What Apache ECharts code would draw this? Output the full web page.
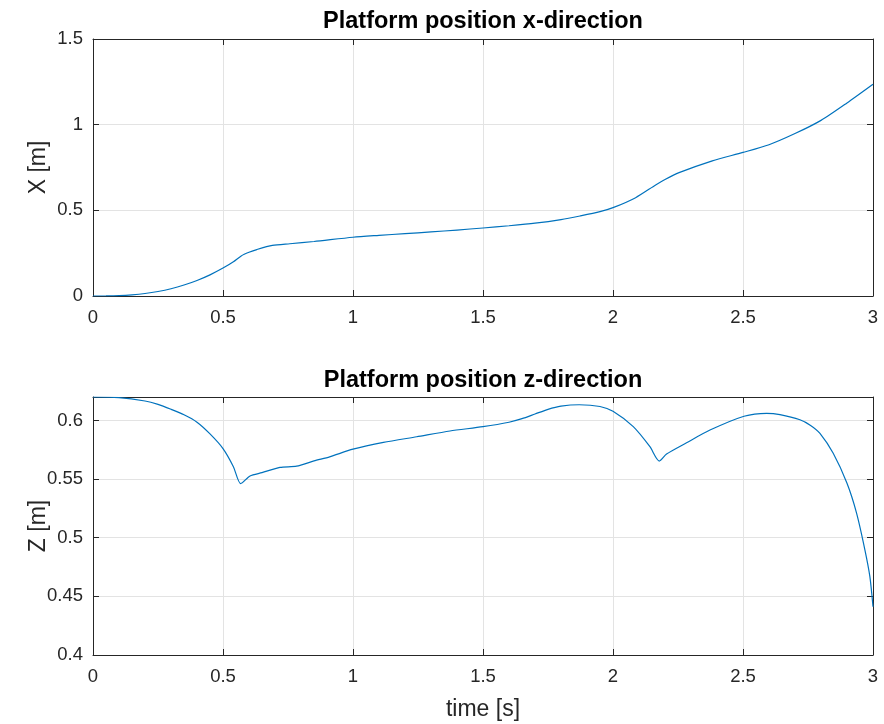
<!DOCTYPE html>
<html>
<head>
<meta charset="utf-8">
<title>Platform position</title>
<script src="https://cdn.jsdelivr.net/npm/echarts@6/dist/echarts.min.js"></script>
<style>
  html, body { margin: 0; padding: 0; background: #ffffff; }
  #chart { width: 884px; height: 724px; }
</style>
</head>
<body>
<div id="chart"></div>
<script>
// Platform position in x-direction over time
var timeX = [0, 0.05, 0.1, 0.15, 0.2, 0.25, 0.3, 0.35, 0.4, 0.45, 0.5, 0.54, 0.57, 0.6, 0.63, 0.69, 0.757, 0.85,
             1.0, 1.1, 1.2, 1.3, 1.4, 1.5, 1.6, 1.7, 1.8, 1.873, 1.95, 2.0, 2.087, 2.164, 2.2, 2.254, 2.382,
             2.5, 2.6, 2.7, 2.8, 2.9, 3.0];
var posX = [0, 0.0004, 0.0024, 0.007, 0.0146, 0.0263, 0.0425, 0.064, 0.0906, 0.1235, 0.163, 0.2, 0.234, 0.255, 0.271, 0.295, 0.305, 0.318,
            0.343, 0.354, 0.364, 0.374, 0.385, 0.397, 0.41, 0.425, 0.446, 0.467, 0.492, 0.5155, 0.574, 0.648, 0.68, 0.72, 0.789,
            0.838, 0.883, 0.948, 1.025, 1.127, 1.236];

// Platform position in z-direction over time
var timeZ = [0, 0.1, 0.2, 0.25, 0.3, 0.35, 0.4, 0.45, 0.5, 0.54, 0.568, 0.604, 0.65, 0.719, 0.783, 0.85, 0.91, 1.0,
             1.117, 1.245, 1.373, 1.5, 1.6, 1.65, 1.7, 1.75, 1.8, 1.87, 1.95, 2.0, 2.078, 2.142, 2.178, 2.206, 2.283,
             2.373, 2.504, 2.591, 2.642, 2.719, 2.76, 2.796, 2.847, 2.9, 2.937, 2.969, 2.988, 3.0];
var posZ = [0.62, 0.6195, 0.6166, 0.6137, 0.6095, 0.6048, 0.5985, 0.5885, 0.576, 0.5606, 0.5462, 0.5527, 0.5555, 0.560, 0.561, 0.5655, 0.569, 0.5755,
            0.5813, 0.5861, 0.591, 0.5947, 0.5985, 0.6015, 0.6055, 0.6095, 0.6122, 0.6134, 0.6119, 0.6078, 0.5947, 0.5776, 0.5654, 0.5714, 0.581,
            0.5918, 0.6036, 0.6061, 0.605, 0.6006, 0.5958, 0.589, 0.572, 0.5464, 0.5208, 0.4895, 0.4668, 0.4412];

var titles = ['Platform position x-direction', 'Platform position z-direction'];
var yNames = ['X [m]', 'Z [m]'];
var xName = 'time [s]';

function pairs(ts, vs) {
  return ts.map(function (t, i) { return [t, vs[i]]; });
}

var FONT = '"Liberation Sans", Arial, Helvetica, sans-serif';
var INK = '#262626';
var GRID = '#e3e3e3';
var LINE = '#0072BD';
var TICK_SIZE = 18.5;
var NAME_SIZE = 23;
var TITLE_SIZE = 23.5;

function frameX(gridIndex, position, showLabels, name) {
  return {
    type: 'value', gridIndex: gridIndex, position: position,
    min: 0, max: 3, interval: 0.5,
    name: name || '', nameLocation: 'middle', nameGap: 43, nameMoveOverlap: false,
    nameTextStyle: { fontFamily: FONT, fontSize: NAME_SIZE, color: INK },
    axisLine: { show: true, onZero: false, lineStyle: { color: INK, width: 1 } },
    axisTick: { show: true, inside: true, length: 6, lineStyle: { color: INK } },
    axisLabel: { show: showLabels, margin: 12, fontFamily: FONT, fontSize: TICK_SIZE, color: INK },
    splitLine: { show: showLabels, lineStyle: { color: GRID, width: 1 } }
  };
}

function frameY(gridIndex, position, showLabels, min, max, interval, name, hideMax) {
  return {
    type: 'value', gridIndex: gridIndex, position: position,
    min: min, max: max, interval: interval,
    name: name || '', nameLocation: 'middle', nameGap: 43, nameMoveOverlap: false,
    nameTextStyle: { fontFamily: FONT, fontSize: NAME_SIZE, color: INK },
    axisLine: { show: true, onZero: false, lineStyle: { color: INK, width: 1 } },
    axisTick: { show: true, inside: true, length: 6, lineStyle: { color: INK } },
    axisLabel: { show: showLabels, margin: 10, fontFamily: FONT, fontSize: TICK_SIZE, color: INK, showMaxLabel: !hideMax },
    splitLine: { show: showLabels, lineStyle: { color: GRID, width: 1 } }
  };
}

var chart = echarts.init(document.getElementById('chart'), null, { renderer: 'canvas' });

chart.setOption({
  backgroundColor: '#ffffff',
  animation: false,
  title: [
    { text: titles[0], left: 478, top: 5, textAlign: 'center',
      textStyle: { fontFamily: FONT, fontSize: TITLE_SIZE, fontWeight: 'bold', color: '#000000' } },
    { text: titles[1], left: 478, top: 364, textAlign: 'center',
      textStyle: { fontFamily: FONT, fontSize: TITLE_SIZE, fontWeight: 'bold', color: '#000000' } }
  ],
  grid: [
    { left: 93, top: 39, width: 780, height: 257, containLabel: false },
    { left: 93, top: 397, width: 780, height: 258, containLabel: false }
  ],
  xAxis: [
    frameX(0, 'bottom', true),
    frameX(0, 'top', false),
    frameX(1, 'bottom', true, xName),
    frameX(1, 'top', false)
  ],
  yAxis: [
    frameY(0, 'left', true, 0, 1.5, 0.5, yNames[0], false),
    frameY(0, 'right', false, 0, 1.5, 0.5, '', false),
    frameY(1, 'left', true, 0.4, 0.62, 0.05, yNames[1], true),
    frameY(1, 'right', false, 0.4, 0.62, 0.05, '', true)
  ],
  series: [
    { type: 'line', xAxisIndex: 0, yAxisIndex: 0, data: pairs(timeX, posX),
      showSymbol: false, smooth: 0.25,
      lineStyle: { color: LINE, width: 1.2 } },
    { type: 'line', xAxisIndex: 2, yAxisIndex: 2, data: pairs(timeZ, posZ),
      showSymbol: false, smooth: 0.25,
      lineStyle: { color: LINE, width: 1.2 } }
  ]
});
</script>
</body>
</html>
